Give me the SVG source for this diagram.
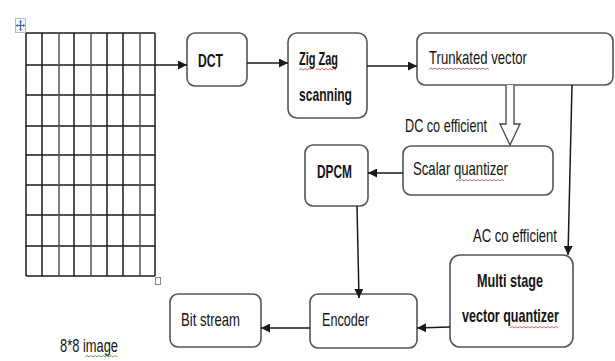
<svg xmlns="http://www.w3.org/2000/svg" width="615" height="361" viewBox="0 0 615 361">
  <style>
    .box { fill: #ffffff; stroke: #555555; stroke-width: 1.6; }
    .lbl { font-family: "Liberation Sans", Arial, sans-serif; font-size: 19px; fill: #141414; }
    .bold { font-weight: bold; }
    .wire { fill: none; stroke: #1a1a1a; stroke-width: 1.5; }
    .grid line { stroke: #1a1a1a; stroke-width: 1.5; }
    .grid line.soft { stroke: #555555; }
    .squig { fill: none; stroke: #c8403a; stroke-width: 0.8; }
    .squig.green { stroke: #3a9a3a; }
  </style>
  <defs>
    <marker id="head" viewBox="0 0 10 10" refX="10" refY="5" markerWidth="9" markerHeight="9" markerUnits="userSpaceOnUse" orient="auto">
      <path d="M0,0 L10,5 L0,10 z" fill="#1a1a1a"/>
    </marker>
  </defs>
  <rect width="615" height="361" fill="#ffffff"/>

  <!-- 8x8 image grid -->
  <g id="grid" class="grid">
    <rect x="15.5" y="18.5" width="10" height="14" fill="#f4f6fa" stroke="#b8bcc4" stroke-width="1"/>
    <path d="M20.5,21 L20.5,30 M16.5,25.5 L24.5,25.5" stroke="#3b64b0" stroke-width="1.2" fill="none"/>
    <path d="M20.5,20 L19,22 L22,22 z M20.5,31 L19,29 L22,29 z M15.8,25.5 L17.8,24 L17.8,27 z M25.2,25.5 L23.2,24 L23.2,27 z" fill="#3b64b0"/>
    <line x1="26" y1="33" x2="155" y2="33"/>
    <line x1="26" y1="65" x2="155" y2="65"/>
    <line x1="26" y1="95" x2="155" y2="95"/>
    <line x1="26" y1="126" x2="155" y2="126"/>
    <line x1="26" y1="155" x2="155" y2="155"/>
    <line x1="26" y1="185" x2="155" y2="185"/>
    <line x1="26" y1="215" x2="155" y2="215"/>
    <line x1="26" y1="246" x2="155" y2="246"/>
    <line x1="26" y1="276" x2="155" y2="276"/>
    <line x1="26" y1="33" x2="26" y2="276"/>
    <line x1="42" y1="33" x2="42" y2="276"/>
    <line class="soft" x1="59" y1="33" x2="59" y2="276"/>
    <line x1="74" y1="33" x2="74" y2="276"/>
    <line class="soft" x1="91" y1="33" x2="91" y2="276"/>
    <line x1="107" y1="33" x2="107" y2="276"/>
    <line x1="123" y1="33" x2="123" y2="276"/>
    <line class="soft" x1="140" y1="33" x2="140" y2="276"/>
    <line x1="155" y1="33" x2="155" y2="276"/>
    <rect x="155.5" y="277.5" width="5" height="7" fill="#ffffff" stroke="#888888" stroke-width="1"/>
    <text class="lbl" x="60" y="352" textLength="58" lengthAdjust="spacingAndGlyphs">8*8 image</text>
    <path class="squig green" d="M85,357 l2,-1.5 l2,1.5 l2,-1.5 l2,1.5 l2,-1.5 l2,1.5 l2,-1.5 l2,1.5 l2,-1.5 l2,1.5 l2,-1.5 l2,1.5 l2,-1.5 l2,1.5 l2,-1.5 l2,1.5"/>
  </g>

  <!-- processing blocks -->
  <g id="dct">
    <rect class="box" x="187" y="33" width="60" height="53" rx="8"/>
    <text class="lbl bold" x="198" y="67" textLength="25" lengthAdjust="spacingAndGlyphs">DCT</text>
  </g>
  <g id="zigzag">
    <rect class="box" x="288" y="33" width="79" height="85" rx="9"/>
    <text class="lbl bold" x="299" y="65" textLength="39" lengthAdjust="spacingAndGlyphs">Zig Zag</text>
    <text class="lbl bold" x="299" y="101" textLength="53" lengthAdjust="spacingAndGlyphs">scanning</text>
    <path class="squig" d="M299,70 l2,-1.5 l2,1.5 l2,-1.5 l2,1.5 l2,-1.5 l2,1.5 M316,70 l2,-1.5 l2,1.5 l2,-1.5 l2,1.5 l2,-1.5 l2,1.5 l2,-1.5 l2,1.5 l2,-1.5 l2,1.5"/>
  </g>
  <g id="trunkated">
    <rect class="box" x="417" y="33" width="196" height="52" rx="8"/>
    <text class="lbl" x="429" y="64" textLength="98" lengthAdjust="spacingAndGlyphs">Trunkated vector</text>
    <path class="squig" d="M429,69.5 l2,-1.5 l2,1.5 l2,-1.5 l2,1.5 l2,-1.5 l2,1.5 l2,-1.5 l2,1.5 l2,-1.5 l2,1.5 l2,-1.5 l2,1.5 l2,-1.5 l2,1.5 l2,-1.5 l2,1.5 l2,-1.5 l2,1.5 l2,-1.5 l2,1.5 l2,-1.5 l2,1.5 l2,-1.5 l2,1.5 l2,-1.5 l2,1.5 l2,-1.5 l2,1.5 l2,-1.5 l2,1.5"/>
  </g>
  <g id="scalar">
    <rect class="box" x="403" y="146" width="150" height="49" rx="8"/>
    <text class="lbl" x="413" y="175" textLength="95" lengthAdjust="spacingAndGlyphs">Scalar quantizer</text>
    <path class="squig" d="M456,181 l2,-1.5 l2,1.5 l2,-1.5 l2,1.5 l2,-1.5 l2,1.5 l2,-1.5 l2,1.5 l2,-1.5 l2,1.5 l2,-1.5 l2,1.5 l2,-1.5 l2,1.5 l2,-1.5 l2,1.5 l2,-1.5 l2,1.5 l2,-1.5 l2,1.5 l2,-1.5 l2,1.5 l2,-1.5 l2,1.5"/>
  </g>
  <g id="dpcm">
    <rect class="box" x="305" y="145" width="63" height="61" rx="8"/>
    <text class="lbl bold" x="317" y="178" textLength="35" lengthAdjust="spacingAndGlyphs">DPCM</text>
  </g>
  <g id="multistage">
    <rect class="box" x="450" y="255" width="123" height="92" rx="10"/>
    <text class="lbl bold" x="477" y="287" textLength="66" lengthAdjust="spacingAndGlyphs">Multi stage</text>
    <text class="lbl bold" x="462" y="322" textLength="97" lengthAdjust="spacingAndGlyphs">vector quantizer</text>
    <path class="squig" d="M510,328 l2,-1.5 l2,1.5 l2,-1.5 l2,1.5 l2,-1.5 l2,1.5 l2,-1.5 l2,1.5 l2,-1.5 l2,1.5 l2,-1.5 l2,1.5 l2,-1.5 l2,1.5 l2,-1.5 l2,1.5 l2,-1.5 l2,1.5 l2,-1.5 l2,1.5 l2,-1.5 l2,1.5 l2,-1.5 l2,1.5"/>
  </g>
  <g id="encoder">
    <rect class="box" x="310" y="294" width="107" height="54" rx="8"/>
    <text class="lbl" x="322" y="326" textLength="47" lengthAdjust="spacingAndGlyphs">Encoder</text>
  </g>
  <g id="bitstream">
    <rect class="box" x="170" y="294" width="91" height="53" rx="8"/>
    <text class="lbl" x="181" y="326" textLength="59" lengthAdjust="spacingAndGlyphs">Bit stream</text>
  </g>

  <!-- connectors -->
  <g id="connectors">
    <path class="wire" d="M155,65 L187,65" marker-end="url(#head)"/>
    <path class="wire" d="M247,63 L288,63" marker-end="url(#head)"/>
    <path class="wire" d="M367,66 L417,66" marker-end="url(#head)"/>
    <path d="M506,85 L506,124 L500,124 L510,145 L520,124 L514,124 L514,85" fill="#ffffff" stroke="#444444" stroke-width="1.3" stroke-linejoin="miter"/>
    <path class="wire" d="M572,85 L568,255" marker-end="url(#head)"/>
    <path class="wire" d="M403,173 L368,173" marker-end="url(#head)"/>
    <path class="wire" d="M357,206 L359,298" marker-end="url(#head)"/>
    <path class="wire" d="M450,327 L417,328" marker-end="url(#head)"/>
    <path class="wire" d="M310,328 L261,328" marker-end="url(#head)"/>
    <text class="lbl" x="405" y="132" textLength="82" lengthAdjust="spacingAndGlyphs">DC co efficient</text>
    <text class="lbl" x="473" y="242" textLength="84" lengthAdjust="spacingAndGlyphs">AC co efficient</text>
  </g>
</svg>
